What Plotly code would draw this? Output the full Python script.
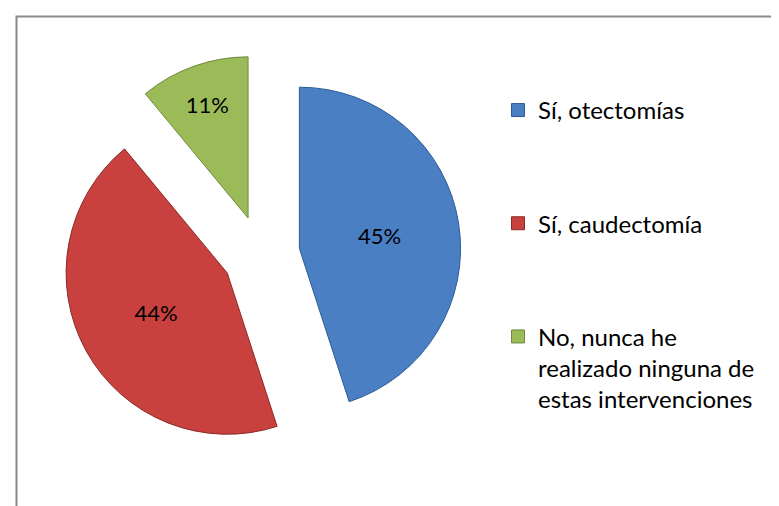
import plotly.graph_objects as go

# datos de la encuesta
categorias = ["Sí, otectomías", "Sí, caudectomía",
              "No, nunca he<br>realizado ninguna de<br>estas intervenciones"]
porcentajes = [45, 44, 11]
colores = ["#4a7fc4", "#c9413e", "#9bbb59"]
bordes = ["#2c5a94", "#8c2a28", "#6e8a3a"]

fig = go.Figure()

fig.add_trace(go.Pie(
    labels=categorias,
    values=porcentajes,
    sort=False,
    direction="clockwise",
    rotation=0,
    pull=[0.24, 0.24, 0.24],
    marker=dict(colors=colores, line=dict(color=bordes, width=1)),
    texttemplate="%{value}%",
    textposition="inside",
    insidetextorientation="horizontal",
    textfont=dict(family="Lato", size=22, color="black"),
    domain=dict(x=[0.068, 0.582], y=[0.118, 0.908]),
    showlegend=False,
    hoverinfo="label+percent",
))

# leyenda aparte para poder separar las entradas
for i, cat in enumerate(categorias):
    fig.add_trace(go.Scatter(
        x=[None], y=[None], mode="markers", name=cat,
        legendgroup=str(i),
        marker=dict(symbol="square", size=13, color=colores[i],
                    line=dict(color=bordes[i], width=1)),
    ))

fig.update_layout(
    width=779, height=506,
    margin=dict(l=0, r=0, t=0, b=0),
    paper_bgcolor="white", plot_bgcolor="white",
    xaxis=dict(visible=False), yaxis=dict(visible=False),
    legend=dict(x=0.629, y=0.842, xanchor="left", yanchor="top",
                font=dict(family="Lato", size=24, color="black"),
                tracegroupgap=79, valign="top", itemwidth=30),
    shapes=[dict(type="rect", xref="paper", yref="paper",
                 x0=8.5 / 779, x1=1.05, y0=-0.05, y1=1 - 8.5 / 506,
                 line=dict(color="#8a8a8a", width=2))],
)

fig.write_html("out.html")
